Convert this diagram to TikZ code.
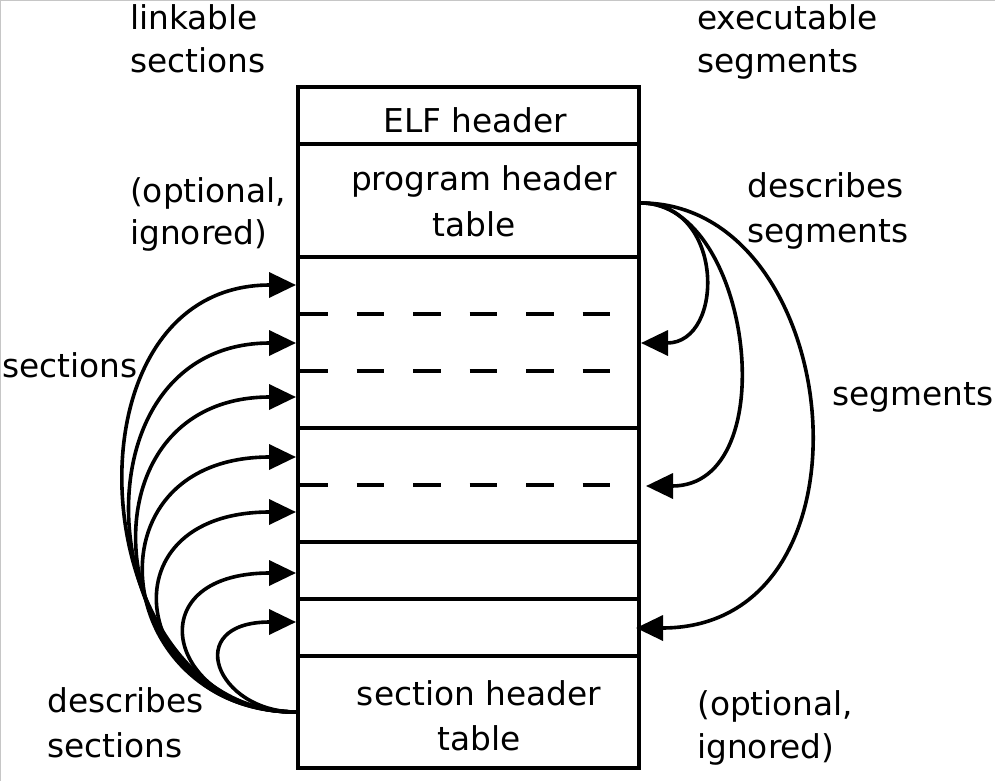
\documentclass[tikz,border=0pt]{standalone}
\usepackage{fontspec}
\setmainfont{DejaVu Sans}
\usetikzlibrary{arrows.meta}
\begin{document}
\begin{tikzpicture}[x=1pt,y=-1pt,
  box/.style={draw, line width=4pt, minimum width=341pt, inner sep=0pt},
  lbl/.style={inner sep=0pt, font=\fontsize{32.8pt}{#1}\selectfont},
  lbl/.default=44pt,
  arr/.style={line width=3.6pt, -{Triangle[length=27pt,width=25pt]}},
  sepline/.style={line width=3.8pt, dash pattern=on 27.5pt off 29pt}]
\useasboundingbox (0,0) rectangle (995,781);
\draw[gray!45, line width=1pt] (0.5,781) -- (0.5,0.5) -- (995,0.5);

% rows of the file
\node[box, minimum height=57pt]  (elf) at (468.5,115.5) {};
\node[box, minimum height=113pt] (pht) at (468.5,200.5) {};
\node[box, minimum height=171pt] (sa)  at (468.5,342.5) {};
\node[box, minimum height=114pt] (sb)  at (468.5,485) {};
\node[box, minimum height=57pt]  (sc)  at (468.5,570.5) {};
\node[box, minimum height=57pt]  (sd)  at (468.5,627.5) {};
\node[box, minimum height=112pt] (sht) at (468.5,712) {};

\draw[sepline] (300,314) -- (611,314);
\draw[sepline] (300,371) -- (611,371);
\draw[sepline] (300,485) -- (611,485);

% texts in the rows
\node[lbl, anchor=base] (telf) at (475.5,132) {ELF header};
\node[lbl=46pt, anchor=base] (tpht) at (479.25,190)
  {\begin{tabular}[t]{@{}c@{}}\hspace*{9.5pt}program header\\table\hspace*{9.5pt}\end{tabular}};
\node[lbl=45pt, anchor=base] (tsht) at (479,705)
  {\begin{tabular}[t]{@{}c@{}}section header\\table\end{tabular}};

% side labels
\node[lbl=43pt, anchor=base west] (link) at (130,30)
  {\begin{tabular}[t]{@{}l@{}}linkable\\sections\end{tabular}};
\node[lbl=43pt, anchor=base west] (exec) at (697,30)
  {\begin{tabular}[t]{@{}l@{}}executable\\segments\end{tabular}};
\node[lbl=42pt, anchor=base west] (optl) at (130,202)
  {\begin{tabular}[t]{@{}l@{}}(optional,\\ignored)\end{tabular}};
\node[lbl=45pt, anchor=base west] (dseg) at (747,197)
  {\begin{tabular}[t]{@{}l@{}}describes\\segments\end{tabular}};
\node[lbl, anchor=base west] (secs) at (2,377) {sections};
\node[lbl, anchor=base west] (segs) at (832,405) {segments};
\node[lbl=45pt, anchor=base west] (dsec) at (47,712)
  {\begin{tabular}[t]{@{}l@{}}describes\\sections\end{tabular}};
\node[lbl=43pt, anchor=base west] (optr) at (697,715)
  {\begin{tabular}[t]{@{}l@{}}(optional,\\ignored)\end{tabular}};

% section arrows (left)
\coordinate (ls) at (296,712);
\coordinate (l1) at (296,285);
\coordinate (l2) at (296,343);
\coordinate (l3) at (296,397);
\coordinate (l4) at (296,457);
\coordinate (l5) at (296,512);
\coordinate (l6) at (296,573);
\coordinate (l7) at (296,622);
\draw[arr] (ls) .. controls +(-212,0) and +(-242,0) .. (l1);
\draw[arr] (ls) .. controls +(-203,0) and +(-233,0) .. (l2);
\draw[arr] (ls) .. controls +(-193,0) and +(-224,0) .. (l3);
\draw[arr] (ls) .. controls +(-183,0) and +(-216,0) .. (l4);
\draw[arr] (ls) .. controls +(-163,0) and +(-198,0) .. (l5);
\draw[arr] (ls) .. controls +(-128,0) and +(-163,0) .. (l6);
\draw[arr] (ls) .. controls +(-80,0) and +(-115,0) .. (l7);

% segment arrows (right)
\coordinate (rs) at (641,203);
\coordinate (r1) at (641,343);
\coordinate (r2) at (646,486);
\coordinate (r3) at (636,628);
\draw[arr] (rs) .. controls +(84,0) and +(84,0) .. (r1);
\draw[arr] (rs) .. controls +(110,0) and +(140,0) .. (r2);
\draw[arr] (rs) .. controls +(205,0) and +(250,0) .. (r3);
\end{tikzpicture}
\end{document}
